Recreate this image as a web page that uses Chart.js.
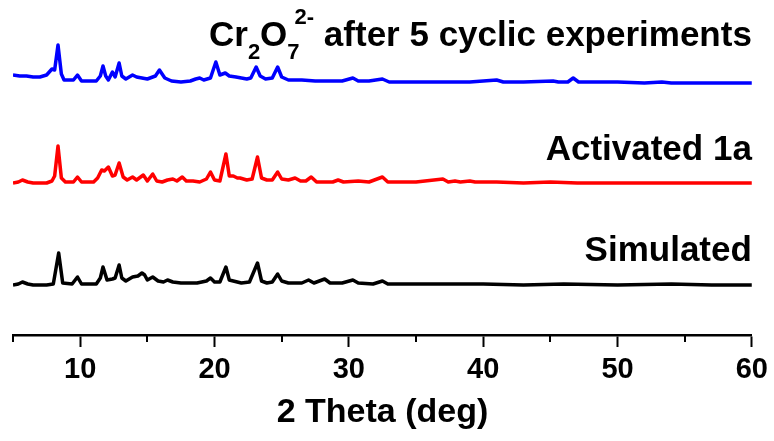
<!DOCTYPE html>
<html>
<head>
<meta charset="utf-8">
<script src="https://cdn.jsdelivr.net/npm/chart.js@4/dist/chart.umd.min.js"></script>
<style>
  html, body { margin: 0; padding: 0; background: #fff; }
  #wrap { width: 774px; height: 441px; }
</style>
</head>
<body>
<div id="wrap"><canvas id="xrd" width="774" height="441"></canvas></div>
<script>
// 2 Theta positions and stacked intensities (arbitrary units, offset per pattern)
const cycX = [5.0, 5.5, 6.0, 6.5, 7.0, 7.5, 7.9, 8.1, 8.35, 8.6, 8.8, 9.5, 9.8, 10.1, 11.2, 11.5, 11.7, 11.9, 12.1, 12.4,
  12.6, 12.9, 13.1, 13.4, 13.9, 14.2, 14.6, 15.0, 15.6, 15.9, 16.3, 16.8, 17.5, 18.2, 18.6, 18.9, 19.2, 19.7, 20.1, 20.4,
  20.8, 21.1, 21.6, 22.0, 22.4, 22.7, 23.1, 23.4, 23.8, 24.3, 24.7, 25.0, 25.5, 26.5, 27.5, 28.5, 29.5, 30.3, 30.7, 31.5,
  32.5, 33.0, 35, 36, 37, 38, 39, 41.0, 41.5, 43, 45.2, 45.6, 46.3, 46.7, 47.1, 48, 50, 52, 53.3, 54, 56, 58, 60];
const cycY = [260, 259, 259, 258, 258, 260, 266, 265, 290, 261, 255, 255, 260, 254, 254, 259, 269, 259, 255, 263,
  258, 272, 259, 256, 260, 258, 257, 256, 259, 265, 257, 254, 253, 254, 256, 257, 255, 257, 273, 260,
  262, 259, 258, 257, 256, 257, 268, 259, 256, 257, 268, 258, 255, 255, 254, 254, 254, 257, 254, 254,
  256, 253, 253, 253, 253, 253, 253, 255, 253, 253, 254, 253, 253, 257, 253, 253, 253, 252, 253, 252, 252, 252, 252];

const actX = [5.0, 5.4, 5.7, 6.1, 6.5, 7.5, 7.9, 8.1, 8.35, 8.6, 8.9, 9.5, 9.8, 10.1, 11.0, 11.3, 11.6, 11.8, 12.1, 12.4,
  12.6, 12.9, 13.2, 13.5, 13.9, 14.2, 14.7, 15.0, 15.4, 15.7, 16.1, 16.5, 16.9, 17.2, 17.6, 17.9, 18.4, 18.9, 19.4, 19.7,
  20.0, 20.4, 20.85, 21.1, 21.4, 21.7, 21.9, 22.4, 22.8, 23.2, 23.5, 23.9, 24.3, 24.7, 25.0, 25.5, 26.0, 26.4, 26.8, 27.2,
  27.6, 28.3, 28.8, 29.2, 29.6, 30.7, 31.5, 32.5, 32.9, 35, 37.0, 37.4, 37.9, 38.3, 39.0, 39.4, 41, 43, 45, 47, 50, 53, 56, 60];
const actY = [152, 153, 155, 153, 152, 152, 154, 159, 189, 157, 153, 153, 158, 153, 153, 157, 165, 164, 168, 159,
  160, 172, 158, 155, 158, 155, 160, 154, 161, 154, 153, 155, 156, 154, 158, 154, 154, 153, 156, 163,
  155, 154, 181, 159, 159, 157, 157, 155, 156, 178, 157, 155, 155, 163, 156, 155, 157, 154, 154, 158,
  153, 153, 153, 155, 153, 154, 153, 158, 153, 153, 156, 153, 154, 153, 154, 153, 153, 152, 153, 152, 152, 152, 152, 152];

const simX = [5.0, 5.4, 5.7, 6.1, 6.5, 7.5, 8.0, 8.4, 8.7, 9.4, 9.8, 10.1, 11.2, 11.5, 11.7, 12.0, 12.4, 12.6, 12.9, 13.1,
  13.4, 13.9, 14.3, 14.6, 14.8, 15.0, 15.4, 15.8, 16.2, 16.5, 16.9, 17.5, 18.0, 18.7, 19.4, 19.7, 20.0, 20.4, 20.85, 21.1,
  21.4, 22.0, 22.6, 23.2, 23.5, 23.9, 24.3, 24.7, 25.0, 25.5, 26.5, 27.0, 27.4, 28.2, 28.6, 29.5, 30.3, 30.7, 31.8, 32.5,
  32.9, 35, 37, 40, 43, 46, 50, 54, 57, 60];
const simY = [50, 51, 53, 51, 50, 50, 51, 82, 52, 51, 58, 51, 51, 57, 68, 55, 56, 57, 70, 57,
  54, 58, 59, 62, 60, 55, 58, 54, 53, 55, 53, 52, 52, 52, 54, 57, 53, 53, 68, 55,
  54, 52, 53, 72, 54, 52, 53, 61, 54, 52, 52, 55, 52, 56, 52, 52, 55, 52, 51, 54,
  51, 51, 51, 51, 50, 51, 50, 51, 50, 50];

const xTicksMajor = [10, 20, 30, 40, 50, 60];
const xTicksMinor = [5, 15, 25, 35, 45, 55];

function toPoints(xs, ys) {
  return xs.map((x, i) => ({ x: x, y: ys[i] }));
}

const FONT = '"Liberation Sans", Arial, sans-serif';

// Minor ticks and the pattern names
const decorPlugin = {
  id: 'decor',
  afterDraw(chart) {
    const ctx = chart.ctx;
    const xs = chart.scales.x;
    const axisY = chart.chartArea.bottom;

    ctx.save();
    ctx.strokeStyle = '#000';
    ctx.lineWidth = 2;
    xTicksMinor.forEach(v => {
      const px = Math.round(xs.getPixelForValue(v));
      ctx.beginPath();
      ctx.moveTo(px, axisY);
      ctx.lineTo(px, axisY + 7);
      ctx.stroke();
    });

    const right = xs.right;
    ctx.fillStyle = '#000';
    ctx.textBaseline = 'alphabetic';

    const big = 'bold 35px ' + FONT;
    const small = 'bold 22px ' + FONT;

    ctx.font = big;
    ctx.textAlign = 'right';
    ctx.fillText('Activated 1a', right, 160);
    ctx.fillText('Simulated', right, 261);

    // Cr2O7 2- after 5 cyclic experiments
    const parts = [
      { t: 'Cr', f: big, dy: 0 },
      { t: '2', f: small, dy: 13 },
      { t: 'O', f: big, dy: 0 },
      { t: '7', f: small, dy: 13, back: true },
      { t: '2-', f: small, dy: -22 },
      { t: ' after 5 cyclic experiments', f: big, dy: 0 }
    ];
    let total = 0;
    const widths = parts.map(p => { ctx.font = p.f; return ctx.measureText(p.t).width; });
    parts.forEach((p, i) => { total += (p.back ? widths[i] - 5 : widths[i]); });
    let x = right - total;
    ctx.textAlign = 'left';
    parts.forEach((p, i) => {
      ctx.font = p.f;
      ctx.fillText(p.t, x, 46 + p.dy);
      x += p.back ? widths[i] - 5 : widths[i];
    });
    ctx.restore();
  }
};

new Chart(document.getElementById('xrd'), {
  type: 'line',
  data: {
    datasets: [
      { label: 'Cr2O7 2- after 5 cyclic experiments', data: toPoints(cycX, cycY), borderColor: '#0000ff' },
      { label: 'Activated 1a', data: toPoints(actX, actY), borderColor: '#ff0000' },
      { label: 'Simulated', data: toPoints(simX, simY), borderColor: '#000000' }
    ]
  },
  options: {
    responsive: false,
    animation: false,
    parsing: false,
    layout: { padding: { left: 13, right: 22, top: 0, bottom: 0 } },
    elements: {
      line: { borderWidth: 3.5, tension: 0, fill: false, borderJoinStyle: 'round' },
      point: { radius: 0 }
    },
    plugins: { legend: { display: false }, tooltip: { enabled: false } },
    scales: {
      x: {
        type: 'linear',
        min: 5,
        max: 60,
        afterFit(scale) { scale.height = 106; },
        afterBuildTicks(scale) { scale.ticks = xTicksMajor.map(v => ({ value: v })); },
        ticks: {
          autoSkip: false,
          maxRotation: 0,
          padding: 6,
          color: '#000',
          font: { family: FONT, size: 29, weight: 'bold' }
        },
        grid: {
          drawOnChartArea: false,
          drawTicks: true,
          tickLength: 12,
          tickWidth: 2,
          tickColor: '#000'
        },
        border: { display: true, color: '#000', width: 2.5 },
        title: {
          display: true,
          text: '2 Theta (deg)',
          color: '#000',
          font: { family: FONT, size: 34, weight: 'bold' },
          padding: { top: 0, bottom: 8 }
        }
      },
      y: { display: false, min: 0, max: 335 }
    }
  },
  plugins: [decorPlugin]
});
</script>
</body>
</html>
